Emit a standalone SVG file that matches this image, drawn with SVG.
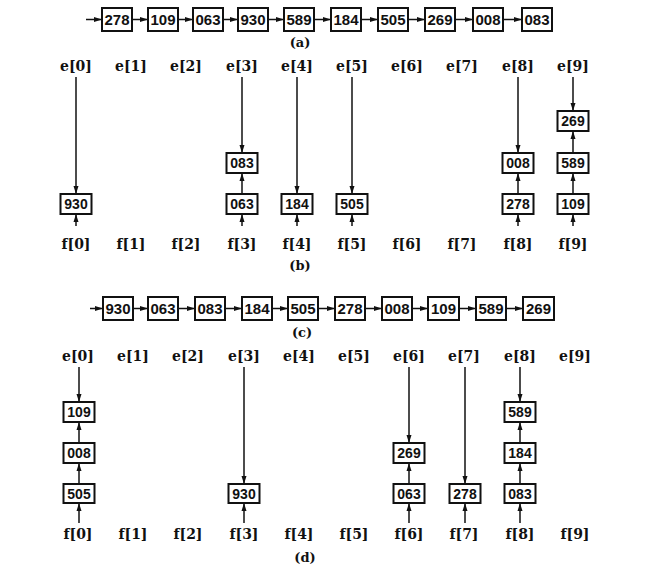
<svg xmlns="http://www.w3.org/2000/svg" width="659" height="576" viewBox="0 0 659 576">
<style>
.bx{fill:#fff;stroke:#111;stroke-width:2}
.num{font-family:"Liberation Sans",Arial,sans-serif;font-weight:bold;font-size:14px;fill:#111;text-anchor:middle}
.cn{font-size:15px}
.lbl{font-family:"DejaVu Serif","Liberation Serif",serif;font-weight:bold;font-size:14px;fill:#111;text-anchor:middle}
.cap{font-family:"DejaVu Serif","Liberation Serif",serif;font-weight:bold;font-size:13px;fill:#111;text-anchor:middle}
.ln{stroke:#111;stroke-width:1.5;fill:none;marker-end:url(#ah)}
</style>
<defs>
<marker id="ah" markerUnits="userSpaceOnUse" markerWidth="8" markerHeight="6" refX="8" refY="3" orient="auto">
<path d="M0,0.5 L8,3 L0,5.5 z" fill="#111"/>
</marker>
</defs>
<rect width="659" height="576" fill="#fff"/>

<g id="connectors">
<!-- chain a -->
<line class="ln" x1="86" y1="19.5" x2="102" y2="19.5"/>
<line class="ln" x1="132" y1="19.5" x2="148" y2="19.5"/>
<line class="ln" x1="178" y1="19.5" x2="193" y2="19.5"/>
<line class="ln" x1="223" y1="19.5" x2="238" y2="19.5"/>
<line class="ln" x1="268" y1="19.5" x2="284" y2="19.5"/>
<line class="ln" x1="314" y1="19.5" x2="331" y2="19.5"/>
<line class="ln" x1="361" y1="19.5" x2="378" y2="19.5"/>
<line class="ln" x1="408" y1="19.5" x2="425" y2="19.5"/>
<line class="ln" x1="455" y1="19.5" x2="473" y2="19.5"/>
<line class="ln" x1="503" y1="19.5" x2="522" y2="19.5"/>
<!-- chain c -->
<line class="ln" x1="90" y1="308.5" x2="103" y2="308.5"/>
<line class="ln" x1="133" y1="308.5" x2="148" y2="308.5"/>
<line class="ln" x1="178" y1="308.5" x2="195" y2="308.5"/>
<line class="ln" x1="225" y1="308.5" x2="242" y2="308.5"/>
<line class="ln" x1="272" y1="308.5" x2="288" y2="308.5"/>
<line class="ln" x1="318" y1="308.5" x2="335" y2="308.5"/>
<line class="ln" x1="365" y1="308.5" x2="382" y2="308.5"/>
<line class="ln" x1="412" y1="308.5" x2="428" y2="308.5"/>
<line class="ln" x1="459" y1="308.5" x2="476" y2="308.5"/>
<line class="ln" x1="506" y1="308.5" x2="523" y2="308.5"/>
<!-- b: col 0 -->
<line class="ln" x1="76" y1="77" x2="76" y2="194"/>
<line class="ln" x1="76" y1="226" x2="76" y2="214"/>
<!-- b: col 3 -->
<line class="ln" x1="242" y1="77" x2="242" y2="153"/>
<line class="ln" x1="242" y1="194" x2="242" y2="173"/>
<line class="ln" x1="242" y1="226" x2="242" y2="214"/>
<!-- b: col 4 -->
<line class="ln" x1="297" y1="77" x2="297" y2="194"/>
<line class="ln" x1="297" y1="226" x2="297" y2="214"/>
<!-- b: col 5 -->
<line class="ln" x1="352" y1="77" x2="352" y2="194"/>
<line class="ln" x1="352" y1="226" x2="352" y2="214"/>
<!-- b: col 8 -->
<line class="ln" x1="518" y1="77" x2="518" y2="153"/>
<line class="ln" x1="518" y1="194" x2="518" y2="173"/>
<line class="ln" x1="518" y1="226" x2="518" y2="214"/>
<!-- b: col 9 -->
<line class="ln" x1="573" y1="77" x2="573" y2="111"/>
<line class="ln" x1="573" y1="153" x2="573" y2="131"/>
<line class="ln" x1="573" y1="194" x2="573" y2="173"/>
<line class="ln" x1="573" y1="226" x2="573" y2="214"/>
<!-- d: col 0 -->
<line class="ln" x1="79" y1="367" x2="79" y2="402"/>
<line class="ln" x1="79" y1="443" x2="79" y2="422"/>
<line class="ln" x1="79" y1="484" x2="79" y2="463"/>
<line class="ln" x1="79" y1="523" x2="79" y2="503"/>
<!-- d: col 3 -->
<line class="ln" x1="244" y1="367" x2="244" y2="484"/>
<line class="ln" x1="244" y1="523" x2="244" y2="503"/>
<!-- d: col 6 -->
<line class="ln" x1="409" y1="367" x2="409" y2="443"/>
<line class="ln" x1="409" y1="484" x2="409" y2="463"/>
<line class="ln" x1="409" y1="523" x2="409" y2="503"/>
<!-- d: col 7 -->
<line class="ln" x1="465" y1="367" x2="465" y2="484"/>
<line class="ln" x1="465" y1="523" x2="465" y2="503"/>
<!-- d: col 8 -->
<line class="ln" x1="520" y1="367" x2="520" y2="402"/>
<line class="ln" x1="520" y1="443" x2="520" y2="422"/>
<line class="ln" x1="520" y1="484" x2="520" y2="463"/>
<line class="ln" x1="520" y1="523" x2="520" y2="503"/>
</g>

<!-- chain (a) -->
<g id="a0"><rect class="bx" x="102" y="8" width="30" height="23"/><text class="num cn" x="117" y="25">278</text></g>
<g id="a1"><rect class="bx" x="148" y="8" width="30" height="23"/><text class="num cn" x="163" y="25">109</text></g>
<g id="a2"><rect class="bx" x="193" y="8" width="30" height="23"/><text class="num cn" x="208" y="25">063</text></g>
<g id="a3"><rect class="bx" x="238" y="8" width="30" height="23"/><text class="num cn" x="253" y="25">930</text></g>
<g id="a4"><rect class="bx" x="284" y="8" width="30" height="23"/><text class="num cn" x="299" y="25">589</text></g>
<g id="a5"><rect class="bx" x="331" y="8" width="30" height="23"/><text class="num cn" x="346" y="25">184</text></g>
<g id="a6"><rect class="bx" x="378" y="8" width="30" height="23"/><text class="num cn" x="393" y="25">505</text></g>
<g id="a7"><rect class="bx" x="425" y="8" width="30" height="23"/><text class="num cn" x="440" y="25">269</text></g>
<g id="a8"><rect class="bx" x="473" y="8" width="30" height="23"/><text class="num cn" x="488" y="25">008</text></g>
<g id="a9"><rect class="bx" x="522" y="8" width="30" height="23"/><text class="num cn" x="537" y="25">083</text></g>
<text class="cap" x="300" y="47">(a)</text>

<!-- (b) labels -->
<g id="b-e">
<text class="lbl" x="76" y="71">e[0]</text><text class="lbl" x="131" y="71">e[1]</text><text class="lbl" x="186" y="71">e[2]</text><text class="lbl" x="242" y="71">e[3]</text><text class="lbl" x="297" y="71">e[4]</text><text class="lbl" x="352" y="71">e[5]</text><text class="lbl" x="407" y="71">e[6]</text><text class="lbl" x="462" y="71">e[7]</text><text class="lbl" x="518" y="71">e[8]</text><text class="lbl" x="573" y="71">e[9]</text>
</g>
<g id="b-f">
<text class="lbl" x="76" y="249">f[0]</text><text class="lbl" x="131" y="249">f[1]</text><text class="lbl" x="186" y="249">f[2]</text><text class="lbl" x="242" y="249">f[3]</text><text class="lbl" x="297" y="249">f[4]</text><text class="lbl" x="352" y="249">f[5]</text><text class="lbl" x="407" y="249">f[6]</text><text class="lbl" x="462" y="249">f[7]</text><text class="lbl" x="518" y="249">f[8]</text><text class="lbl" x="573" y="249">f[9]</text>
</g>
<g id="b930"><rect class="bx" x="60.5" y="194" width="31" height="20"/><text class="num" x="76" y="209">930</text></g>
<g id="b063"><rect class="bx" x="226.5" y="194" width="31" height="20"/><text class="num" x="242" y="209">063</text></g>
<g id="b083"><rect class="bx" x="226.5" y="153" width="31" height="20"/><text class="num" x="242" y="168">083</text></g>
<g id="b184"><rect class="bx" x="281.5" y="194" width="31" height="20"/><text class="num" x="297" y="209">184</text></g>
<g id="b505"><rect class="bx" x="336.5" y="194" width="31" height="20"/><text class="num" x="352" y="209">505</text></g>
<g id="b278"><rect class="bx" x="502.5" y="194" width="31" height="20"/><text class="num" x="518" y="209">278</text></g>
<g id="b008"><rect class="bx" x="502.5" y="153" width="31" height="20"/><text class="num" x="518" y="168">008</text></g>
<g id="b109"><rect class="bx" x="557.5" y="194" width="31" height="20"/><text class="num" x="573" y="209">109</text></g>
<g id="b589"><rect class="bx" x="557.5" y="153" width="31" height="20"/><text class="num" x="573" y="168">589</text></g>
<g id="b269"><rect class="bx" x="557.5" y="111" width="31" height="20"/><text class="num" x="573" y="126">269</text></g>
<text class="cap" x="300" y="270">(b)</text>

<!-- chain (c) -->
<g id="c0"><rect class="bx" x="103" y="297" width="30" height="23"/><text class="num cn" x="118" y="314">930</text></g>
<g id="c1"><rect class="bx" x="148" y="297" width="30" height="23"/><text class="num cn" x="163" y="314">063</text></g>
<g id="c2"><rect class="bx" x="195" y="297" width="30" height="23"/><text class="num cn" x="210" y="314">083</text></g>
<g id="c3"><rect class="bx" x="242" y="297" width="30" height="23"/><text class="num cn" x="257" y="314">184</text></g>
<g id="c4"><rect class="bx" x="288" y="297" width="30" height="23"/><text class="num cn" x="303" y="314">505</text></g>
<g id="c5"><rect class="bx" x="335" y="297" width="30" height="23"/><text class="num cn" x="350" y="314">278</text></g>
<g id="c6"><rect class="bx" x="382" y="297" width="30" height="23"/><text class="num cn" x="397" y="314">008</text></g>
<g id="c7"><rect class="bx" x="428" y="297" width="31" height="23"/><text class="num cn" x="443.5" y="314">109</text></g>
<g id="c8"><rect class="bx" x="476" y="297" width="30" height="23"/><text class="num cn" x="491" y="314">589</text></g>
<g id="c9"><rect class="bx" x="523" y="297" width="31" height="23"/><text class="num cn" x="538.5" y="314">269</text></g>
<text class="cap" x="302" y="337">(c)</text>

<!-- (d) labels -->
<g id="d-e">
<text class="lbl" x="78" y="361">e[0]</text><text class="lbl" x="133" y="361">e[1]</text><text class="lbl" x="188" y="361">e[2]</text><text class="lbl" x="244" y="361">e[3]</text><text class="lbl" x="299" y="361">e[4]</text><text class="lbl" x="354" y="361">e[5]</text><text class="lbl" x="409" y="361">e[6]</text><text class="lbl" x="464" y="361">e[7]</text><text class="lbl" x="520" y="361">e[8]</text><text class="lbl" x="575" y="361">e[9]</text>
</g>
<g id="d-f">
<text class="lbl" x="78" y="539">f[0]</text><text class="lbl" x="133" y="539">f[1]</text><text class="lbl" x="188" y="539">f[2]</text><text class="lbl" x="244" y="539">f[3]</text><text class="lbl" x="299" y="539">f[4]</text><text class="lbl" x="354" y="539">f[5]</text><text class="lbl" x="409" y="539">f[6]</text><text class="lbl" x="464" y="539">f[7]</text><text class="lbl" x="520" y="539">f[8]</text><text class="lbl" x="575" y="539">f[9]</text>
</g>
<g id="d505"><rect class="bx" x="63.5" y="484" width="31" height="19"/><text class="num" x="79" y="498.5">505</text></g>
<g id="d008"><rect class="bx" x="63.5" y="443" width="31" height="20"/><text class="num" x="79" y="458">008</text></g>
<g id="d109"><rect class="bx" x="63.5" y="402" width="31" height="20"/><text class="num" x="79" y="417">109</text></g>
<g id="d930"><rect class="bx" x="228.5" y="484" width="31" height="19"/><text class="num" x="244" y="498.5">930</text></g>
<g id="d063"><rect class="bx" x="393.5" y="484" width="31" height="19"/><text class="num" x="409" y="498.5">063</text></g>
<g id="d269"><rect class="bx" x="393.5" y="443" width="31" height="20"/><text class="num" x="409" y="458">269</text></g>
<g id="d278"><rect class="bx" x="449.5" y="484" width="31" height="19"/><text class="num" x="465" y="498.5">278</text></g>
<g id="d083"><rect class="bx" x="504.5" y="484" width="31" height="19"/><text class="num" x="520" y="498.5">083</text></g>
<g id="d184"><rect class="bx" x="504.5" y="443" width="31" height="20"/><text class="num" x="520" y="458">184</text></g>
<g id="d589"><rect class="bx" x="504.5" y="402" width="31" height="20"/><text class="num" x="520" y="417">589</text></g>
<text class="cap" x="305" y="562">(d)</text>
</svg>
